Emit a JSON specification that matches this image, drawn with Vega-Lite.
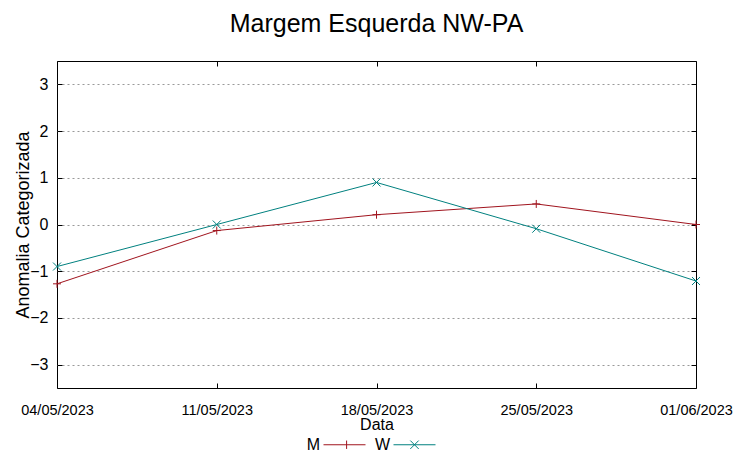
{
  "$schema": "https://vega.github.io/schema/vega-lite/v6.json",
  "width": 639,
  "height": 327,
  "autosize": {"type": "none"},
  "padding": {"left": 57, "top": 61, "right": 57, "bottom": 70},
  "title": {"text": "Margem Esquerda NW-PA", "fontSize": 25, "font": "Liberation Sans", "fontWeight": "normal", "color": "#000", "offset": 24, "anchor": "middle"},
  "config": {"view": {"stroke": "#000", "strokeWidth": 1}, "font": "Liberation Sans"},
  "data": {"values": [
    {"date": "04/05/2023", "series": "M", "value": -1.27},
    {"date": "11/05/2023", "series": "M", "value": -0.13},
    {"date": "18/05/2023", "series": "M", "value": 0.21},
    {"date": "25/05/2023", "series": "M", "value": 0.44},
    {"date": "01/06/2023", "series": "M", "value": 0.0},
    {"date": "04/05/2023", "series": "W", "value": -0.9},
    {"date": "11/05/2023", "series": "W", "value": 0.0},
    {"date": "18/05/2023", "series": "W", "value": 0.9},
    {"date": "25/05/2023", "series": "W", "value": -0.09},
    {"date": "01/06/2023", "series": "W", "value": -1.21}
  ]},
  "resolve": {"axis": {"x": "independent", "y": "independent"}},
  "layer": [
    {
      "mark": {"type": "line", "strokeWidth": 1},
      "encoding": {
        "x": {"field": "date", "type": "ordinal", "sort": ["04/05/2023", "11/05/2023", "18/05/2023", "25/05/2023", "01/06/2023"], "scale": {"type": "point", "padding": 0},
          "axis": {"title": "Data", "titleFontSize": 16, "titleFontWeight": "normal", "titleColor": "#000", "titlePadding": 0, "labelAngle": 0, "labelFontSize": 14.5, "labelColor": "#000", "labelDx": 8, "labelPadding": 20, "tickSize": -5, "tickColor": "#000", "domain": false, "grid": false}},
        "y": {"field": "value", "type": "quantitative", "scale": {"domain": [-3.5, 3.5]},
          "axis": {"title": "Anomalia Categorizada", "titleFontSize": 18, "titleFontWeight": "normal", "titleColor": "#000", "titlePadding": -3, "values": [-3, -2, -1, 0, 1, 2, 3], "labelFontSize": 16, "labelColor": "#000", "labelPadding": 14, "tickSize": -5, "tickColor": "#000", "domain": false, "grid": true, "gridDash": [2, 3], "gridColor": "#999", "gridWidth": 1}},
        "color": {"field": "series", "type": "nominal", "scale": {"domain": ["M", "W"], "range": ["#a0141e", "#00807f"]},
          "legend": {"title": null, "orient": "none", "direction": "horizontal", "legendX": 266, "legendY": 362, "labelFontSize": 16, "labelColor": "#000", "labelAlign": "right", "labelOffset": -46, "columnPadding": 6, "symbolSize": 1764, "symbolStrokeWidth": 1,
            "encode": {"symbols": {"update": {"shape": {"signal": "datum.value === 'M' ? 'M-1,0H1M0.1,-0.2V0.2' : 'M-1,0H1M-0.2,-0.2L0.2,0.2M-0.2,0.2L0.2,-0.2'"}, "fill": {"value": "transparent"}}}}}}
      }
    },
    {
      "transform": [{"filter": "datum.series === 'M'"}],
      "mark": {"type": "point", "filled": false, "strokeWidth": 1, "size": 64, "opacity": 1, "shape": "M-1,0H1M0,-1V1"},
      "encoding": {
        "x": {"field": "date", "type": "ordinal", "sort": ["04/05/2023", "11/05/2023", "18/05/2023", "25/05/2023", "01/06/2023"], "scale": {"type": "point", "padding": 0},
          "axis": {"orient": "top", "title": null, "labels": false, "tickSize": -5, "tickColor": "#000", "domain": false, "grid": false}},
        "y": {"field": "value", "type": "quantitative", "scale": {"domain": [-3.5, 3.5]},
          "axis": {"orient": "right", "title": null, "labels": false, "values": [-3, -2, -1, 0, 1, 2, 3], "tickSize": -5, "tickColor": "#000", "domain": false, "grid": false}},
        "color": {"field": "series", "type": "nominal", "scale": {"domain": ["M", "W"], "range": ["#a0141e", "#00807f"]}, "legend": null}
      }
    },
    {
      "transform": [{"filter": "datum.series === 'W'"}],
      "mark": {"type": "point", "filled": false, "strokeWidth": 1, "size": 64, "opacity": 1, "shape": "M-1,-1L1,1M-1,1L1,-1"},
      "encoding": {
        "x": {"field": "date", "type": "ordinal", "sort": ["04/05/2023", "11/05/2023", "18/05/2023", "25/05/2023", "01/06/2023"], "scale": {"type": "point", "padding": 0}, "axis": null},
        "y": {"field": "value", "type": "quantitative", "scale": {"domain": [-3.5, 3.5]}, "axis": null},
        "color": {"field": "series", "type": "nominal", "scale": {"domain": ["M", "W"], "range": ["#a0141e", "#00807f"]}, "legend": null}
      }
    }
  ]
}
